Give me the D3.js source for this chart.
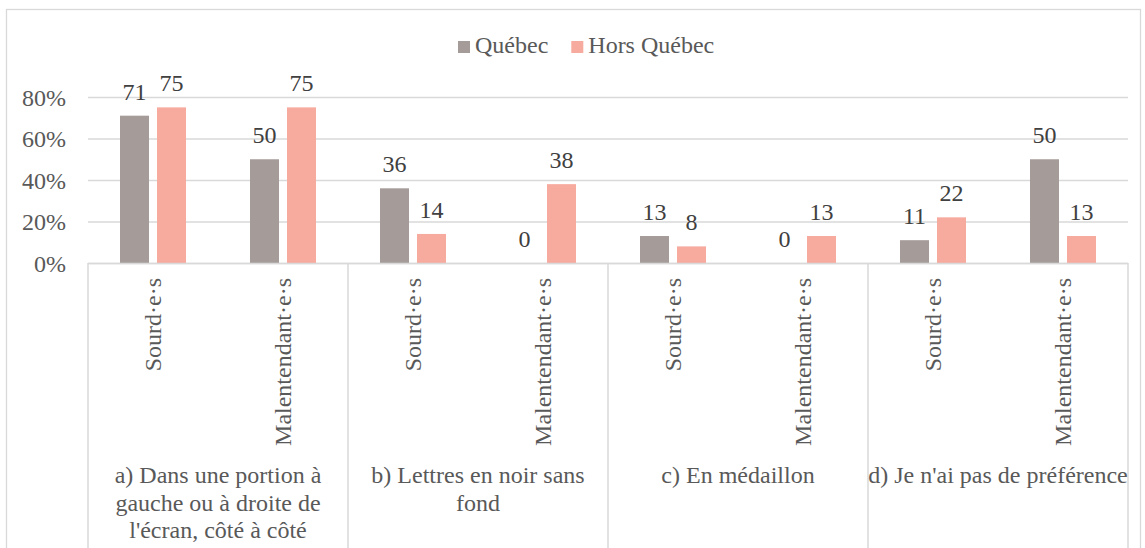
<!DOCTYPE html>
<html>
<head>
<meta charset="utf-8">
<script src="https://cdn.jsdelivr.net/npm/d3@7/dist/d3.min.js"></script>
</head>
<body style="margin:0">
<svg id="chart" width="1145" height="548"></svg>
<script>
// ---- data ----
const groups = [
  ["a) Dans une portion à", "gauche ou à droite de", "l'écran, côté à côté"],
  ["b) Lettres en noir sans", "fond"],
  ["c) En médaillon"],
  ["d) Je n'ai pas de préférence"]
];
const subCategories = ["Sourd·e·s", "Malentendant·e·s"];
const seriesNames = ["Québec", "Hors Québec"];
const quebecValues = [71, 50, 36, 0, 13, 0, 11, 50];
const horsQuebecValues = [75, 75, 14, 38, 8, 13, 22, 13];
const yTicks = [0, 20, 40, 60, 80];
const colors = ["#a59c9a", "#f7aa9e"];

const FONT = "'Liberation Serif'";
const FS = 24;
const categories = [];
groups.forEach((g, gi) => subCategories.forEach((s, si) => categories.push({ id: gi * 2 + si, label: s, group: gi })));
const seriesValues = [quebecValues, horsQuebecValues];

const svg = d3.select("#chart");
const W = 1145, H = 548;
const pLeft = 88, pRight = 1128, pTop = 97, pBottom = 263;

svg.append("rect").attr("x", 6.5).attr("y", 9.5).attr("width", 1134).attr("height", 560)
  .attr("fill", "none").attr("stroke", "#d9d9d9").attr("stroke-width", 1.3);

const x0 = d3.scaleBand().domain(categories.map(d => d.id)).range([pLeft, pRight]).paddingInner(0).paddingOuter(0);
const step = x0.step();
const pair = 66;
const x1 = d3.scaleBand().domain(seriesNames).range([(step - pair) / 2, (step + pair) / 2]).paddingInner(8 / 37).paddingOuter(0);
const y = d3.scaleLinear().domain([0, 80]).range([pBottom, pTop]);

const yAxis = d3.axisLeft(y).tickValues(yTicks).tickSize(-(pRight - pLeft)).tickFormat(d => d + "%");
const ga = svg.append("g").attr("transform", `translate(${pLeft},0)`).call(yAxis);
ga.attr("font-family", null).attr("font-size", null);
ga.select(".domain").remove();
ga.selectAll(".tick line").attr("stroke", "#d9d9d9").attr("stroke-width", 1.5);
ga.selectAll(".tick text").attr("x", -22).attr("fill", "#595959").attr("dy", "0.35em");

seriesNames.forEach((s, si) => {
  const g = svg.append("g");
  g.selectAll("rect").data(seriesValues[si]).join("rect")
    .attr("x", (d, i) => x0(i) + x1(s))
    .attr("y", d => y(d))
    .attr("width", x1.bandwidth())
    .attr("height", d => y(0) - y(d))
    .attr("fill", colors[si]);
  g.selectAll("text").data(seriesValues[si]).join("text")
    .attr("x", (d, i) => x0(i) + x1(s) + x1.bandwidth() / 2)
    .attr("y", d => y(d) - 16)
    .attr("text-anchor", "middle")
    .attr("fill", "#404040")
    .text(d => d);
});

const ax = svg.append("g").attr("transform", `translate(0,${pBottom})`);
ax.append("line").attr("x1", pLeft).attr("x2", pRight).attr("y1", 0.5).attr("y2", 0.5)
  .attr("stroke", "#d9d9d9").attr("stroke-width", 1.5);
const sepX = d3.range(groups.length + 1).map(i => i < groups.length ? x0(i * 2) : pRight);
ax.selectAll("line.sep").data(sepX).join("line").attr("class", "sep")
  .attr("x1", d => d).attr("x2", d => d).attr("y1", 0).attr("y2", H - pBottom + 5)
  .attr("stroke", "#d9d9d9").attr("stroke-width", 1.5);

svg.append("g").selectAll("text").data(categories).join("text")
  .attr("transform", d => `translate(${x0(d.id) + step / 2},278) rotate(-90)`)
  .attr("text-anchor", "end")
  .attr("dy", "0.35em")
  .attr("fill", "#595959")
  .text(d => d.label);

const gl = svg.append("g").selectAll("text").data(groups).join("text")
  .attr("x", (d, i) => x0(i * 2) + step)
  .attr("y", 483)
  .attr("text-anchor", "middle")
  .attr("fill", "#595959");
gl.selectAll("tspan").data(d => d).join("tspan")
  .attr("x", function () { return d3.select(this.parentNode).attr("x"); })
  .attr("dy", (d, i) => i === 0 ? 0 : 27.5)
  .text(d => d);

const legend = svg.append("g").attr("transform", "translate(458,36)");
seriesNames.forEach((s, si) => {
  const item = legend.append("g").attr("class", "leg");
  item.append("rect").attr("x", 0).attr("y", 5).attr("width", 12).attr("height", 12).attr("fill", colors[si]);
  item.append("text").attr("x", 17).attr("y", 17).attr("fill", "#595959").text(s);
});

svg.selectAll("text").style("font-family", FONT).style("font-size", FS + "px");

let lx = 0;
legend.selectAll("g.leg").each(function () {
  const g = d3.select(this);
  g.attr("transform", `translate(${lx},0)`);
  lx += 17 + g.select("text").node().getComputedTextLength() + 23;
});
</script>
</body>
</html>
